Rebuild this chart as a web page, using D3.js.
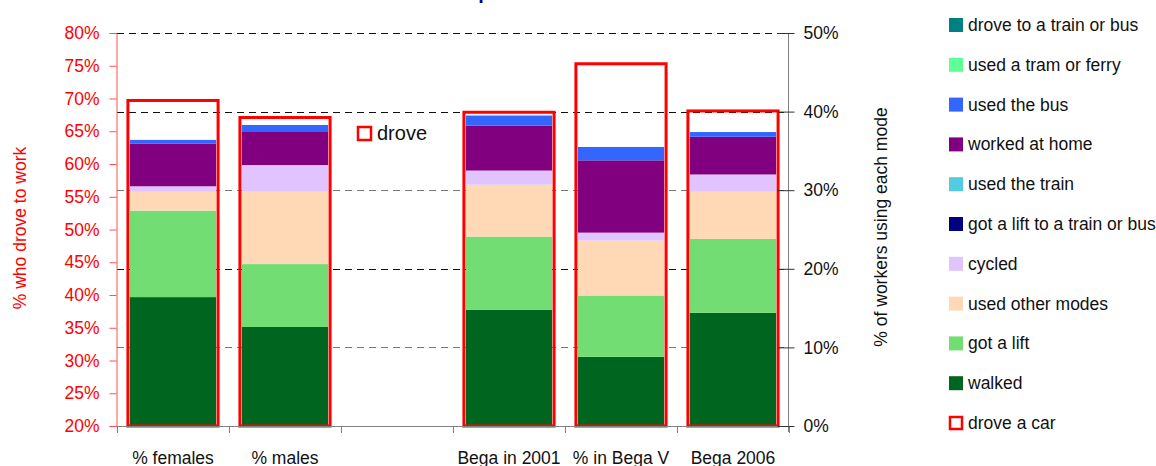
<!DOCTYPE html>
<html>
<head>
<meta charset="utf-8">
<script src="https://cdn.jsdelivr.net/npm/d3@7"></script>
<style>
  html, body { margin: 0; padding: 0; background: #fff; }
  svg { display: block; font-family: "Liberation Sans", Arial, sans-serif; }
</style>
</head>
<body>
<svg id="chart" width="1156" height="466"></svg>
<script>
// Categories along the x axis (the third slot is a deliberate gap)
const categories = ["% females", "% males", "", "Bega in 2001", "% in Bega V", "Bega 2006"];

// % of workers who drove a car (left axis)
const droveCar = [69.7, 67.1, null, 67.9, 75.3, 68.1];

// % of workers using each other mode (right axis), stacked bottom to top
const walked          = [16.4, 12.6, null, 14.8, 8.8, 14.4];
const gotALift        = [11.0, 8.0, null, 9.3, 7.8, 9.4];
const usedOtherModes  = [2.4, 9.2, null, 6.6, 7.0, 6.0];
const cycled          = [0.7, 3.4, null, 1.8, 1.0, 2.2];
const liftToTrainBus  = [0, 0, null, 0, 0, 0];
const usedTheTrain    = [0, 0, null, 0, 0, 0];
const workedAtHome    = [5.4, 4.3, null, 5.7, 9.2, 4.8];
const usedTheBus      = [0.5, 0.8, null, 1.3, 1.7, 0.6];
const usedTramFerry   = [0, 0, null, 0, 0, 0];
const droveToTrainBus = [0, 0, null, 0, 0, 0];

const leftTicks = [20, 25, 30, 35, 40, 45, 50, 55, 60, 65, 70, 75, 80];
const rightTicks = [0, 10, 20, 30, 40, 50];

const series = [
  { name: "walked", values: walked, color: "#00661f" },
  { name: "got a lift", values: gotALift, color: "#72dd72" },
  { name: "used other modes", values: usedOtherModes, color: "#ffd9b5" },
  { name: "cycled", values: cycled, color: "#e0c3ff" },
  { name: "got a lift to a train or bus", values: liftToTrainBus, color: "#000080" },
  { name: "used the train", values: usedTheTrain, color: "#52cde0" },
  { name: "worked at home", values: workedAtHome, color: "#800080" },
  { name: "used the bus", values: usedTheBus, color: "#3366ff" },
  { name: "used a tram or ferry", values: usedTramFerry, color: "#5eff96" },
  { name: "drove to a train or bus", values: droveToTrainBus, color: "#008080" }
];

const svg = d3.select("#chart");
const FONT = 17.5;
const plot = { left: 117, right: 789, top: 33, bottom: 426 };

const x = d3.scaleBand()
  .domain(d3.range(categories.length))
  .range([plot.left, plot.right])
  .paddingInner(0).paddingOuter(0);

const yLeft = d3.scaleLinear().domain([20, 80]).range([plot.bottom, plot.top]);
const yRight = d3.scaleLinear().domain([0, 50]).range([plot.bottom, plot.top]);

// Title (sits mostly above the top edge)
svg.append("text")
  .attr("x", 425).attr("y", -1)
  .attr("font-size", 20).attr("font-weight", "bold")
  .attr("fill", "#000080")
  .text("Transport to work");

// Dashed gridlines on the right-axis scale
svg.append("g").selectAll("line")
  .data(rightTicks.filter(d => d > 0))
  .join("line")
  .attr("x1", plot.left).attr("x2", plot.right)
  .attr("y1", d => Math.round(yRight(d)) + 0.5)
  .attr("y2", d => Math.round(yRight(d)) + 0.5)
  .attr("stroke", (d, i) => (d / 10) % 2 === 0 || d === 50 ? "#111" : "#777")
  .attr("stroke-dasharray", "7,5");

// Stacked bars
const stackRows = categories.map((c, i) => {
  const row = { idx: i };
  series.forEach(s => { row[s.name] = s.values[i] == null ? 0 : s.values[i]; });
  return row;
});
const stacked = d3.stack().keys(series.map(s => s.name))(stackRows);

const barW = x.bandwidth() * 0.77;
svg.append("g").selectAll("g")
  .data(stacked)
  .join("g")
  .attr("fill", (d, i) => series[i].color)
  .selectAll("rect")
  .data(d => d.filter(p => categories[p.data.idx] !== ""))
  .join("rect")
  .attr("x", d => x(d.data.idx) + (x.bandwidth() - barW) / 2)
  .attr("width", barW)
  .attr("y", d => yRight(d[1]))
  .attr("height", d => Math.max(0, yRight(d[0]) - yRight(d[1])));

// Red outline boxes: % who drove a car (left axis)
const boxW = x.bandwidth() * 0.805;
svg.append("g").selectAll("rect")
  .data(droveCar.map((v, i) => ({ v, i })).filter(d => d.v != null))
  .join("rect")
  .attr("x", d => x(d.i) + (x.bandwidth() - boxW) / 2)
  .attr("width", boxW)
  .attr("y", d => yLeft(d.v))
  .attr("height", d => yLeft(20) - yLeft(d.v))
  .attr("fill", "none")
  .attr("stroke", "#ff0000")
  .attr("stroke-width", 3);

// Bottom axis
const xAxis = svg.append("g");
xAxis.append("line")
  .attr("x1", plot.left).attr("x2", plot.right + 1)
  .attr("y1", plot.bottom + 0.5).attr("y2", plot.bottom + 0.5)
  .attr("stroke", "#808080");
const boundaries = d3.range(categories.length + 1).map(i => i < categories.length ? x(i) : plot.right);
xAxis.selectAll("line.tick")
  .data(boundaries)
  .join("line").attr("class", "tick")
  .attr("x1", d => Math.round(d) + 0.5).attr("x2", d => Math.round(d) + 0.5)
  .attr("y1", plot.bottom).attr("y2", plot.bottom + 7)
  .attr("stroke", "#808080");
xAxis.selectAll("text")
  .data(categories)
  .join("text")
  .attr("x", (d, i) => x(i) + x.bandwidth() / 2)
  .attr("y", 464)
  .attr("text-anchor", "middle")
  .attr("font-size", FONT)
  .attr("fill", "#111")
  .text(d => d);

// Left axis (red)
const leftAxis = svg.append("g").attr("transform", `translate(${plot.left - 0.5},0)`)
  .call(d3.axisLeft(yLeft).tickValues(leftTicks).tickSize(7).tickPadding(10)
    .tickFormat(d => d + "%"));
leftAxis.select(".domain").attr("stroke", "#ff5050");
leftAxis.selectAll(".tick line").attr("stroke", "#ff5050");
leftAxis.selectAll(".tick text")
  .attr("fill", "#ff0000").attr("font-size", FONT).attr("font-family", null);

svg.append("text")
  .attr("transform", `translate(26,${228}) rotate(-90)`)
  .attr("text-anchor", "middle")
  .attr("font-size", FONT)
  .attr("fill", "#ff0000")
  .text("% who drove to work");

// Right axis
const rightAxis = svg.append("g").attr("transform", `translate(${plot.right - 0.5},0)`)
  .call(d3.axisRight(yRight).tickValues(rightTicks).tickSize(6).tickPadding(9)
    .tickFormat(d => d + "%"));
rightAxis.select(".domain").attr("stroke", "#808080").attr("d", `M0,${plot.top}V${plot.bottom + 6}`);
rightAxis.selectAll(".tick line").attr("stroke", "#333").attr("x1", -11);
rightAxis.selectAll(".tick text")
  .attr("fill", "#111").attr("font-size", FONT).attr("font-family", null);

svg.append("text")
  .attr("transform", `translate(887,${227}) rotate(-90)`)
  .attr("text-anchor", "middle")
  .attr("font-size", FONT)
  .attr("fill", "#111")
  .text("% of workers using each mode");

// In-plot key for the outline boxes
svg.append("rect")
  .attr("x", 358).attr("y", 127).attr("width", 13).attr("height", 13)
  .attr("fill", "none").attr("stroke", "#ff0000").attr("stroke-width", 2.5);
svg.append("text")
  .attr("x", 377).attr("y", 140)
  .attr("font-size", 20).attr("fill", "#111")
  .text("drove");

// Legend (top of stack first), then the outline entry
const legendItems = series.slice().reverse().map(s => ({ name: s.name, color: s.color, outline: false }))
  .concat([{ name: "drove a car", color: "#ff0000", outline: true }]);
const legend = svg.append("g");
const row = legend.selectAll("g")
  .data(legendItems)
  .join("g")
  .attr("transform", (d, i) => `translate(949,${25 + i * 39.8})`);
row.append("rect")
  .attr("x", d => d.outline ? 1 : 0).attr("y", d => d.outline ? -6 : -7)
  .attr("width", d => d.outline ? 12 : 14).attr("height", d => d.outline ? 12 : 14)
  .attr("fill", d => d.outline ? "none" : d.color)
  .attr("stroke", d => d.outline ? d.color : "none")
  .attr("stroke-width", 2.5);
row.append("text")
  .attr("x", 19).attr("y", 6)
  .attr("font-size", FONT).attr("fill", "#111")
  .text(d => d.name);
</script>
</body>
</html>
